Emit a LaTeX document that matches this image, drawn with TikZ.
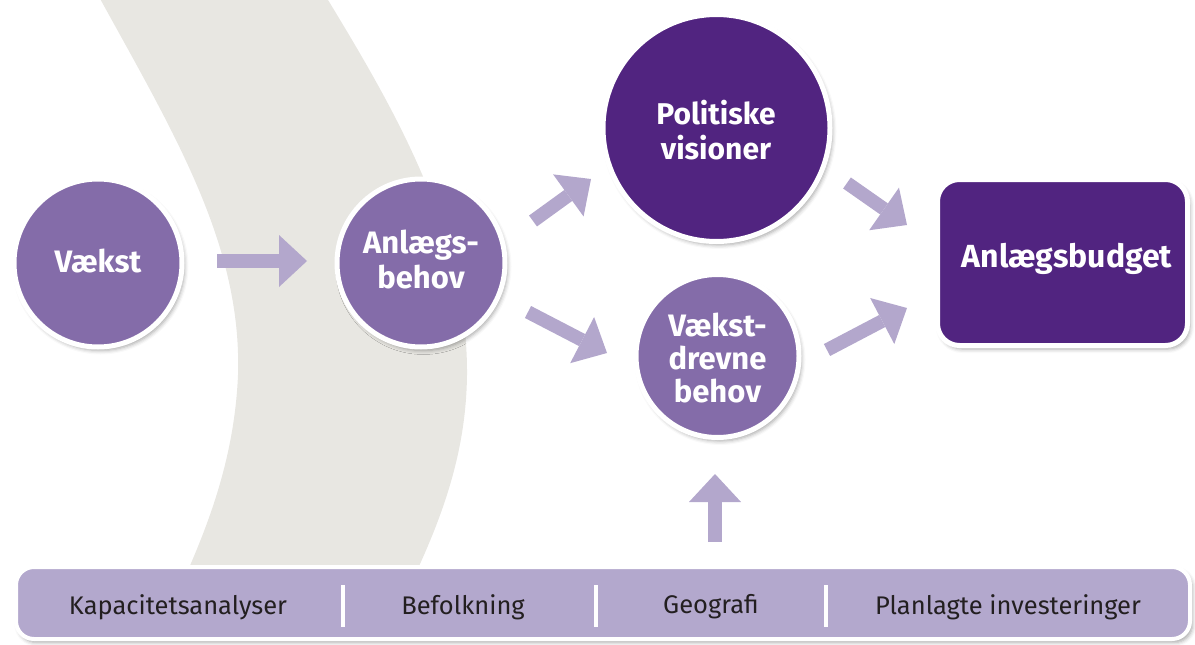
\documentclass[tikz,border=0pt]{standalone}
\usepackage{fontspec}
\setmainfont{Fira Sans}
\usetikzlibrary{arrows.meta,shadows.blur}
\definecolor{lightp}{HTML}{846CA9}
\definecolor{darkp}{HTML}{512480}
\definecolor{arrowc}{HTML}{B3A7CC}
\definecolor{bandc}{HTML}{E8E7E2}
\definecolor{barc}{HTML}{B3A8CD}
\definecolor{txtc}{HTML}{231F20}
\begin{document}
\begin{tikzpicture}[x=1pt,y=-1pt,
  softshadow/.style={blur shadow={shadow xshift=2.5pt, shadow yshift=-3.5pt, shadow blur radius=4pt, shadow opacity=35}},
  circ/.style={circle, draw=white, line width=5pt, inner sep=0pt, softshadow},
  lbl/.style={text=white, font=\bfseries\fontsize{31}{35}\selectfont, align=center, inner sep=0pt},
  budbox/.style={rectangle, rounded corners=22pt, draw=white, line width=5pt, fill=darkp, minimum width=250pt, minimum height=166pt, softshadow},
  barbox/.style={rectangle, rounded corners=18pt, draw=white, line width=4pt, fill=barc, minimum width=1174pt, minimum height=72pt, softshadow},
  bartxt/.style={text=txtc, font=\fontsize{25.5}{28}\selectfont, inner sep=0pt},
  sepline/.style={draw=white, line width=4pt},
  barrow/.style={draw=arrowc, line width=13.5pt, -{Triangle[width=52pt,length=28pt,line width=0pt]}}
]
\useasboundingbox (0,0) rectangle (1195,645);
% grey band
\begin{scope}
\clip (0,0) rectangle (1195,645);
\fill[bandc] (98,-5) .. controls (175,135) and (242,245) .. (238,375)
  .. controls (234,470) and (200,545) .. (170,610) -- (398,610)
  .. controls (438,530) and (466,460) .. (467,375)
  .. controls (468,235) and (395,110) .. (325,-5) -- cycle;
\end{scope}
% arrow end points
\coordinate (a0s) at (217,261); \coordinate (a0e) at (307,261);
\coordinate (a1s) at (533,221); \coordinate (a1e) at (591,179);
\coordinate (a2s) at (528,312); \coordinate (a2e) at (607,353);
\coordinate (a3s) at (847,183); \coordinate (a3e) at (907,225);
\coordinate (a4s) at (827,350); \coordinate (a4e) at (907,308);
\coordinate (a5s) at (715,542); \coordinate (a5e) at (715,474);
\draw[barrow] (a0s) -- (a0e);
\draw[barrow] (a1s) -- (a1e);
\draw[barrow] (a2s) -- (a2e);
\draw[barrow] (a3s) -- (a3e);
\draw[barrow] (a4s) -- (a4e);
\draw[barrow] (a5s) -- (a5e);
% circles
\node[circ, fill=lightp, minimum size=168pt] (vaekst) at (98,263) {};
\node[lbl] (vaekstt) at (98,261) {Vækst};
\node[circ, fill=lightp, minimum size=168pt] (anl) at (421,263) {};
\node[lbl] (anlt) at (421,259) {Anlægs-\\behov};
\node[circ, fill=darkp, minimum size=227pt] (pol) at (716.5,128) {};
\node[lbl, font=\bfseries\fontsize{30}{35}\selectfont] (polt) at (716,130) {Politiske\\visioner};
\node[circ, fill=lightp, minimum size=163pt] (vdb) at (717.5,356) {};
\node[lbl, font=\bfseries\fontsize{31}{33}\selectfont] (vdbt) at (717.5,358) {Vækst-\\drevne\\behov};
\node[budbox] (bud) at (1062.5,262.5) {};
\node[lbl, font=\bfseries\fontsize{32}{35}\selectfont] (budt) at (1067,259) {Anlægsbudget};
% bottom bar
\node[barbox] (bar) at (603,603) {};
\draw[sepline] (343,585) -- (343,627);
\draw[sepline] (596,585) -- (596,627);
\draw[sepline] (826,585) -- (826,627);
\node[bartxt] (k1) at (178,607) {Kapacitetsanalyser};
\node[bartxt] (k2) at (463,607) {Befolkning};
\node[bartxt] (k3) at (711,607) {Geografi};
\node[bartxt] (k4) at (1008,607) {Planlagte investeringer};
\end{tikzpicture}
\end{document}
